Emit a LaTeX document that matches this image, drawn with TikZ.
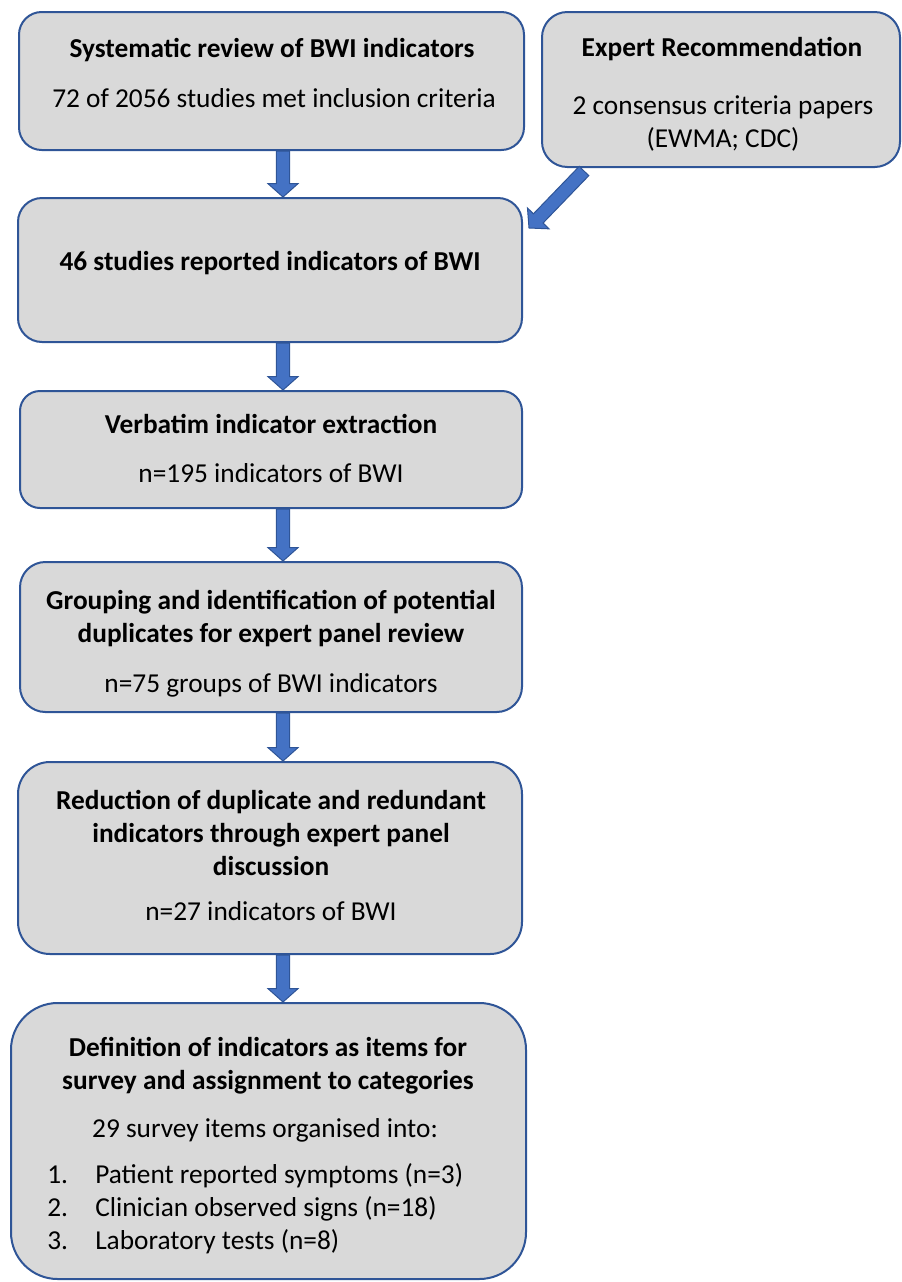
\documentclass[tikz,border=0pt]{standalone}
\usepackage{fontspec}
\setmainfont{Carlito}
\usetikzlibrary{calc,fit}
\definecolor{boxfill}{HTML}{D9D9D9}
\definecolor{boxline}{HTML}{2F5597}
\definecolor{arrfill}{HTML}{4472C4}
\definecolor{arrline}{HTML}{2F5597}
\tikzset{
  flowbox/.style={draw=boxline, fill=boxfill, line width=1.5pt, inner sep=0pt},
  txt/.style={anchor=base, inner sep=0pt, font=\fontsize{20.5}{24}\selectfont},
  btxt/.style={txt, font=\fontsize{20.5}{24}\selectfont\bfseries},
  ltxt/.style={anchor=base west, inner sep=0pt, font=\fontsize{20.5}{24}\selectfont},
  blockarrow/.style={draw=arrline, fill=arrfill, line width=0.75pt, line join=miter}
}
\newcommand\blockarr[2]{%
  \coordinate (ba-h) at ($(#2)!10pt!(#1)$);
  \draw[blockarrow] ($(#1)!5pt!90:(#2)$) -- ($(ba-h)!5pt!90:(#2)$) -- ($(ba-h)!11.25pt!90:(#2)$) -- (#2)
     -- ($(ba-h)!11.25pt!-90:(#2)$) -- ($(ba-h)!5pt!-90:(#2)$) -- ($(#1)!5pt!-90:(#2)$) -- cycle;}
\begin{document}
\begin{tikzpicture}[x=0.75pt,y=-0.75pt]
\useasboundingbox (0,0) rectangle (902,1282);
% boxes
\node[flowbox, rounded corners=17pt, fit={(19,12) (524,150)}] (b1) {};
\node[flowbox, rounded corners=19pt, fit={(542,12) (900,167)}] (ex) {};
\node[flowbox, rounded corners=18pt, fit={(18,198) (522,342)}] (b2) {};
\node[flowbox, rounded corners=15pt, fit={(20,391) (522,508)}] (b3) {};
\node[flowbox, rounded corners=19pt, fit={(20,562) (522,712)}] (b4) {};
\node[flowbox, rounded corners=24pt, fit={(18,762) (522,954)}] (b5) {};
\node[flowbox, rounded corners=35pt, fit={(11,1003) (526,1279)}] (b6) {};
% texts
\node[btxt] (t1a) at (272,57) {Systematic review of BWI indicators};
\node[txt]  (t1b) at (274,107) {72 of 2056 studies met inclusion criteria};
\node[btxt] (tea) at (722,56) {Expert Recommendation};
\node[txt]  (teb) at (723,114) {2 consensus criteria papers};
\node[txt]  (tec) at (723,147) {(EWMA; CDC)};
\node[btxt] (t2a) at (270,270) {46 studies reported indicators of BWI};
\node[btxt] (t3a) at (271,433) {Verbatim indicator extraction};
\node[txt]  (t3b) at (271,482) {n=195 indicators of BWI};
\node[btxt] (t4a) at (271,609) {Grouping and identification of potential};
\node[btxt] (t4b) at (271,642) {duplicates for expert panel review};
\node[txt]  (t4c) at (271,692) {n=75 groups of BWI indicators};
\node[btxt] (t5a) at (271,809) {Reduction of duplicate and redundant};
\node[btxt] (t5b) at (271,842) {indicators through expert panel};
\node[btxt] (t5c) at (271,875) {discussion};
\node[txt]  (t5d) at (271,920) {n=27 indicators of BWI};
\node[btxt] (t6a) at (268,1056) {Definition of indicators as items for};
\node[btxt] (t6b) at (268,1089) {survey and assignment to categories};
\node[txt]  (t6c) at (265,1137) {29 survey items organised into:};
\node[ltxt] (n1) at (47,1183) {1.};
\node[ltxt] (l1) at (95,1183) {Patient reported symptoms (n=3)};
\node[ltxt] (n2) at (47,1216) {2.};
\node[ltxt] (l2) at (95,1216) {Clinician observed signs (n=18)};
\node[ltxt] (n3) at (47,1249) {3.};
\node[ltxt] (l3) at (95,1249) {Laboratory tests (n=8)};
% arrows
\coordinate (ax) at (283,0);
\blockarr{b1.south -| ax}{b2.north -| ax}
\blockarr{b2.south -| ax}{b3.north -| ax}
\blockarr{b3.south -| ax}{b4.north -| ax}
\blockarr{b4.south -| ax}{b5.north -| ax}
\blockarr{b5.south -| ax}{b6.north -| ax}
\coordinate (dstart) at ($(ex.south west)+(43,3)$);
\coordinate (dend) at ($(b2.north east)+(6,31)$);
\blockarr{dstart}{dend}
\end{tikzpicture}
\end{document}
